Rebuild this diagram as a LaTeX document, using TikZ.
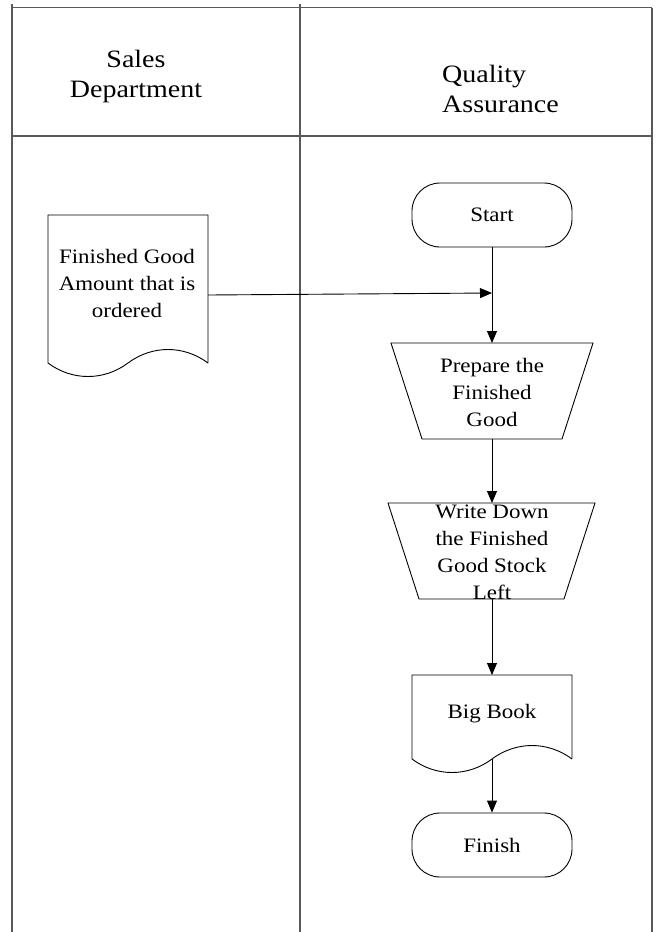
\documentclass[tikz,border=0pt]{standalone}
\usepackage{fontspec}
\setmainfont{Liberation Serif}[FakeStretch=1.12]
\usetikzlibrary{arrows.meta}
\newcommand{\myhs}{\vrule height 18pt depth 0pt width 0pt}
\newcommand{\mybs}{\vrule height 15pt depth 0pt width 0pt}
\begin{document}
\begin{tikzpicture}[x=1pt,y=-1pt,
  lane/.style={draw=black!65, line width=1.6pt},
  shapeline/.style={draw=black, line width=0.9pt},
  arr/.style={draw=black, line width=0.9pt, -{Triangle[length=12pt,width=10pt]}},
  body/.style={font=\fontsize{20.5}{27}\selectfont, align=center, inner sep=0pt},
  head/.style={font=\fontsize{25}{30}\selectfont, inner sep=0pt},
  term/.style={shapeline, rounded corners=28pt, minimum width=160pt, minimum height=64pt, inner sep=0pt, font=\fontsize{20.5}{27}\selectfont},
]
\useasboundingbox (0,0) rectangle (657,932);
\fill[white] (0,0) rectangle (657,932);

% swimlane frame
\draw[lane] (12,4) -- (12,932);
\draw[lane] (300,4) -- (300,932);
\draw[lane] (652,7.5) -- (652,932);
\draw[lane] (12,7.5) -- (652,7.5);
\draw[lane] (12,136) -- (652,136);

% headers
\node[head, align=center, anchor=north] (hsales) at (136,49) {\myhs Sales\\Department};
\node[head, align=left, anchor=north west] (hqa) at (442,64) {\myhs Quality\\Assurance};

% document: Finished Good Amount
\draw[shapeline] (208,363) -- (208,215) -- (48,215) -- (48,363)
  .. controls (72,381) and (104,381) .. (128,363)
  .. controls (152,345) and (184,345) .. (208,363);
\node[body, anchor=north] (tdoc) at (127,248) {\mybs Finished Good\\Amount that is\\ordered};
\coordinate (docR) at (208,295);

% start
\node[term] (start) at (492,215) {Start};
\coordinate (junc) at (492,293);

% prepare
\draw[shapeline] (391,343) -- (593,343) -- (562,439) -- (422,439) -- cycle;
\node[body, anchor=north] (tprep) at (492,357) {\mybs Prepare the\\Finished\\Good};
\coordinate (prepT) at (492,343);
\coordinate (prepB) at (492,439);

% write down
\draw[shapeline] (388,503) -- (595,503) -- (564,599) -- (419,599) -- cycle;
\node[body, anchor=north] (twrite) at (492,503) {\mybs Write Down\\the Finished\\Good Stock\\Left};
\coordinate (writeT) at (492,503);
\coordinate (writeB) at (492,599);

% big book document
\draw[shapeline] (572,759) -- (572,675) -- (412,675) -- (412,759)
  .. controls (436,777) and (468,777) .. (492,759)
  .. controls (516,741) and (548,741) .. (572,759);
\node[body, anchor=base] (tbook) at (492,718) {Big Book};
\coordinate (bookT) at (492,675);
\coordinate (bookB) at (492,759);

% finish
\node[term] (finish) at (492,845) {Finish};

% connectors
\draw[arr] (start.south) -- (prepT);
\draw[arr] (docR) -- (junc);
\draw[arr] (prepB) -- (writeT);
\draw[arr] (writeB) -- (bookT);
\draw[arr] (bookB) -- (finish.north);
\end{tikzpicture}
\end{document}
